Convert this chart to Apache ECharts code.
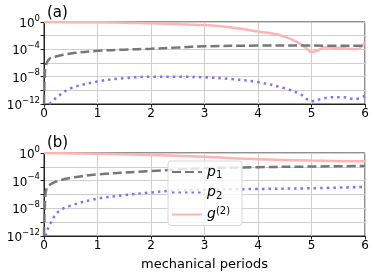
<!DOCTYPE html>
<html><head><meta charset="utf-8">
<script src="https://cdn.jsdelivr.net/npm/echarts@6/dist/echarts.min.js"></script>
<style>html,body{margin:0;padding:0;background:#fff}#c{width:374px;height:274px}</style>
</head><body><div id="c"></div>
<script>
// Panel (a)
const tA_g2 = [0, 0.5, 1, 1.5, 2, 2.5, 3, 3.5, 4, 4.4, 4.7, 4.9, 5.0, 5.1, 5.25, 5.6, 5.85, 6];
const A_g2  = [1, 0.95, 0.89, 0.79, 0.63, 0.47, 0.35, 0.16, 0.04, 0.0126, 1.6e-3, 1.6e-4, 4e-5, 6.3e-5, 1.8e-4, 1.4e-4, 1.1e-4, 1e-3];
const tA_p1 = [0, 0.02, 0.05, 0.1, 0.2, 0.5, 1, 1.5, 2, 2.5, 3, 4, 5, 6];
const A_p1  = [1e-12, 1e-7, 1e-6, 4e-6, 8e-6, 2.5e-5, 6e-5, 9e-5, 1.25e-4, 1.8e-4, 2.8e-4, 3.5e-4, 3.5e-4, 3.2e-4];
const tA_p2 = [0.1, 0.17, 0.25, 0.5, 1, 1.5, 2, 2.5, 3, 3.5, 4, 4.5, 4.8, 5.0, 5.2, 5.4, 5.6, 5.8, 6];
const A_p2  = [1e-12, 3e-12, 1.2e-11, 2e-10, 2e-9, 6e-9, 1e-8, 1e-8, 8e-9, 4.5e-9, 1.6e-9, 2e-10, 2.5e-11, 2.5e-12, 6e-12, 1e-11, 1e-11, 5e-12, 1.6e-11];
// Panel (b)
const tB_g2 = [0, 1, 2, 3, 4, 5, 6];
const B_g2  = [1, 0.76, 0.52, 0.28, 0.126, 0.08, 0.063];
const tB_p1 = [0, 0.02, 0.05, 0.2, 0.5, 1, 2, 3, 4, 5, 6];
const B_p1  = [1e-12, 1e-7, 8e-6, 6e-5, 2.5e-4, 8e-4, 2.5e-3, 6e-3, 9e-3, 1.1e-2, 1.35e-2];
const tB_p2 = [0.03, 0.05, 0.1, 0.25, 0.5, 1, 1.5, 2, 2.5, 3, 4, 5, 6];
const B_p2  = [1e-12, 4e-12, 3e-11, 2.5e-9, 2.5e-8, 2.5e-7, 8e-7, 2e-6, 4e-6, 5e-6, 6.3e-6, 8e-6, 1.25e-5];
const xTicks = [0, 1, 2, 3, 4, 5, 6];
const yLabelExps = [0, -4, -8, -12];

const FONT = 'DejaVu Sans';
const zip = (t, v) => t.map((x, i) => [x, v[i]]);
const col = {g2: '#ffb3b3', p1: '#777777', p2: '#8c6cf6'};

function xAxis(idx, name) {
  return {
    type: 'value', gridIndex: idx, min: 0, max: 6, interval: 1,
    axisLine: {show: true, onZero: false, lineStyle: {color: '#222', width: 1}},
    axisTick: {show: true, length: 3.5, lineStyle: {color: '#222'}},
    axisLabel: {color: '#000', fontFamily: FONT, fontSize: 12, margin: 4,
      formatter: v => xTicks.includes(v) ? String(v) : ''},
    splitLine: {show: true, lineStyle: {color: '#cfcfcf', width: 1}},
    name: name || '', nameLocation: 'middle', nameGap: 22,
    nameTextStyle: {color: '#000', fontFamily: FONT, fontSize: 13}
  };
}
function yAxis(idx) {
  return {
    type: 'log', gridIndex: idx, logBase: 10, min: 1e-12, max: 1, interval: 2,
    axisLine: {show: true, lineStyle: {color: '#222', width: 1}},
    axisTick: {show: true, length: 3.5, lineStyle: {color: '#222'}},
    splitLine: {show: true, lineStyle: {color: '#cfcfcf', width: 1}},
    axisLabel: {
      margin: 4, color: '#000', fontFamily: FONT,
      formatter: v => {
        const e = Math.round(Math.log10(v));
        if (!yLabelExps.includes(e)) return '';
        return '{b|10}{s|' + (e === 0 ? '0' : '\u2212' + (-e)) + '}';
      },
      rich: {
        b: {fontSize: 12, fontFamily: FONT, color: '#000', lineHeight: 16, verticalAlign: 'bottom'},
        s: {fontSize: 8.5, fontFamily: FONT, color: '#000', verticalAlign: 'top', lineHeight: 10}
      }
    }
  };
}
function ser(name, idx, data, kind) {
  const ls = {width: 2.5, color: col[kind]};
  if (kind === 'p1') { ls.type = [9, 4]; }
  if (kind === 'p2') { ls.type = [2.5, 4]; }
  return {name, type: 'line', xAxisIndex: idx, yAxisIndex: idx, data, showSymbol: false, symbol: 'none',
    smooth: 0.35, lineStyle: ls, itemStyle: {color: col[kind]}, z: kind === 'g2' ? 1 : 2, silent: true,
    clip: true};
}

const chart = echarts.init(document.getElementById('c'), null, {renderer: 'canvas'});
chart.setOption({
  animation: false,
  textStyle: {fontFamily: FONT},
  title: [
    {text: '(a)', left: 42, top: 1, textStyle: {fontFamily: FONT, fontSize: 15, fontWeight: 'normal', color: '#000'}},
    {text: '(b)', left: 42, top: 131, textStyle: {fontFamily: FONT, fontSize: 15, fontWeight: 'normal', color: '#000'}}
  ],
  grid: [
    {left: 44, right: 9, top: 22, height: 82, show: true, borderColor: '#222', borderWidth: 1, backgroundColor: 'transparent'},
    {left: 44, right: 9, top: 153, height: 83, show: true, borderColor: '#222', borderWidth: 1, backgroundColor: 'transparent'}
  ],
  xAxis: [xAxis(0), xAxis(1, 'mechanical periods')],
  yAxis: [yAxis(0), yAxis(1)],
  legend: {
    data: ['p1', 'p2', 'g2'], orient: 'vertical', left: 168, top: 161,
    itemWidth: 30, itemHeight: 10, itemGap: 5,
    itemStyle: {opacity: 0, borderWidth: 0},
    backgroundColor: 'rgba(255,255,255,0.8)', borderColor: '#d8d8d8', borderWidth: 1, borderRadius: 3,
    padding: [4, 12, 4, 3],
    formatter: n => n === 'p1' ? '{i|p}{sub|1}' : n === 'p2' ? '{i|p}{sub|2}' : '{i|g}{sup|(2)}',
    textStyle: {
      fontFamily: FONT, color: '#000',
      rich: {
        i: {fontSize: 14, fontStyle: 'italic', fontFamily: FONT, lineHeight: 17, verticalAlign: 'middle'},
        sub: {fontSize: 10, fontFamily: FONT, verticalAlign: 'bottom', lineHeight: 10},
        sup: {fontSize: 10, fontFamily: FONT, verticalAlign: 'top', lineHeight: 10}
      }
    }
  },
  series: [
    ser('g2', 0, zip(tA_g2, A_g2), 'g2'),
    ser('p1', 0, zip(tA_p1, A_p1), 'p1'),
    ser('p2', 0, zip(tA_p2, A_p2), 'p2'),
    ser('g2', 1, zip(tB_g2, B_g2), 'g2'),
    ser('p1', 1, zip(tB_p1, B_p1), 'p1'),
    ser('p2', 1, zip(tB_p2, B_p2), 'p2')
  ]
});
</script></body></html>
